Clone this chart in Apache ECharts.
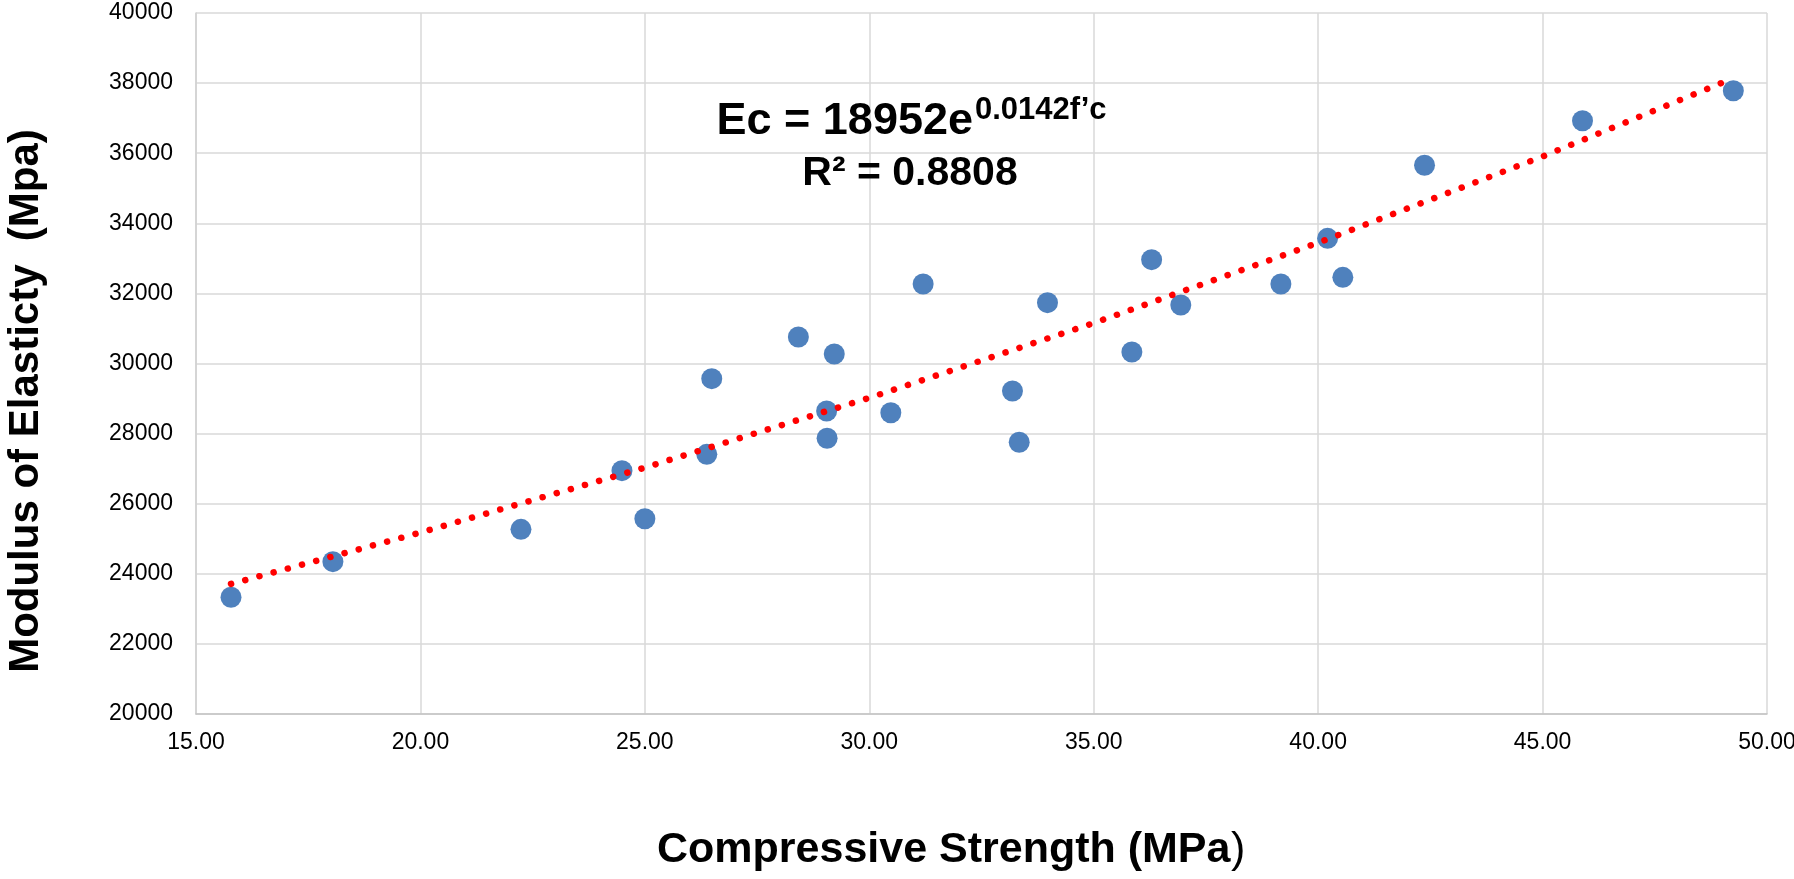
<!DOCTYPE html>
<html>
<head>
<meta charset="utf-8">
<script src="https://cdn.jsdelivr.net/npm/echarts@6/dist/echarts.min.js"></script>
<style>
  html, body { margin: 0; padding: 0; background: #ffffff; }
  #chart { width: 1794px; height: 879px; }
</style>
</head>
<body>
<div id="chart"></div>
<script>
// Measured data: compressive strength (MPa) vs modulus of elasticity (MPa)
var strength = [15.78, 18.05, 22.24, 24.49, 25.00, 26.38, 26.49, 28.42, 29.05, 29.06, 29.22, 30.48, 31.20,
                33.19, 33.34, 33.97, 35.85, 36.29, 36.94, 39.17, 40.21, 40.55, 42.37, 45.89, 49.25];
var modulus  = [23330, 24346, 25269, 26942, 25572, 27409, 29567, 30756, 28645, 27866, 30271, 28596, 32268,
                29215, 27752, 31735, 30328, 32962, 31669, 32268, 33572, 32459, 35655, 36927, 37783];

// Trendline points (exponential trendline)
var trendX = [15.78, 20, 25, 30, 35, 40, 45, 49.25];
var trendY = [23711, 25176, 27029, 29020, 31154, 33445, 35906, 38141];

var xTicks = { min: 15, max: 50, interval: 5 };
var yTicks = { min: 20000, max: 40000, interval: 2000 };

var eqMain = 'Ec = 18952e';
var eqSup = '0.0142f\u2019c';
var eqR2 = 'R\u00B2 = 0.8808';
var xTitle = 'Compressive Strength (MPa';
var xTitleEnd = ')';
var yTitle = 'Modulus of Elasticty  (Mpa)';

var FONT = '"Liberation Sans", Arial, Helvetica, sans-serif';

var scatterData = strength.map(function (x, i) { return [x, modulus[i]]; });
var trendData = trendX.map(function (x, i) { return [x, trendY[i]]; });

var chart = echarts.init(document.getElementById('chart'), null, { renderer: 'canvas' });

chart.setOption({
  animation: false,
  backgroundColor: '#ffffff',
  textStyle: { fontFamily: FONT },
  grid: { left: 196, right: 27, top: 13, bottom: 165, containLabel: false, outerBoundsMode: 'none' },
  xAxis: {
    type: 'value',
    min: xTicks.min, max: xTicks.max, interval: xTicks.interval,
    axisLine: { show: true, lineStyle: { color: '#c4c4c4', width: 1.5 } },
    axisTick: { show: false },
    splitLine: { show: true, lineStyle: { color: '#d9d9d9', width: 1.5 } },
    axisLabel: {
      margin: 17, fontSize: 23, color: '#000', fontFamily: FONT,
      formatter: function (v) { return v.toFixed(2); }
    }
  },
  yAxis: {
    type: 'value',
    min: yTicks.min, max: yTicks.max, interval: yTicks.interval,
    axisLine: { show: true, lineStyle: { color: '#d0d0d0', width: 1.5 } },
    axisTick: { show: false },
    splitLine: { show: true, lineStyle: { color: '#d9d9d9', width: 1.5 } },
    axisLabel: {
      margin: 23, fontSize: 23, color: '#000', fontFamily: FONT,
      formatter: function (v) { return String(v); }
    }
  },
  series: [
    {
      type: 'scatter',
      data: scatterData,
      symbol: 'circle',
      symbolSize: 21,
      itemStyle: { color: '#4F81BD', opacity: 1 },
      emphasis: { disabled: true },
      z: 2
    },
    {
      type: 'line',
      data: trendData,
      showSymbol: false,
      symbol: 'none',
      smooth: false,
      lineStyle: { color: '#FF0000', width: 6.5, type: [0.1, 14.6], cap: 'round' },
      emphasis: { disabled: true },
      z: 3
    }
  ],
  graphic: [
    {
      type: 'text', right: 1794 - 973, top: 99, z: 10,
      style: { text: eqMain, font: 'bold 45px ' + FONT, fill: '#000' }
    },
    {
      type: 'text', left: 975, top: 95, z: 10,
      style: { text: eqSup, font: 'bold 31px ' + FONT, fill: '#000' }
    },
    {
      type: 'text', x: 910, y: 153, z: 10,
      style: { text: eqR2, font: 'bold 41px ' + FONT, fill: '#000', align: 'center', verticalAlign: 'top' }
    },
    {
      type: 'group', left: 657, top: 829, z: 10,
      children: [
        { type: 'text', x: 0, y: 0, style: { text: xTitle, font: 'bold 43px ' + FONT, fill: '#000' } },
        { type: 'text', x: 574, y: 0, style: { text: xTitleEnd, font: '43px ' + FONT, fill: '#000' } }
      ]
    },
    {
      type: 'text', x: 26, y: 401, rotation: Math.PI / 2, z: 10,
      style: { text: yTitle, font: 'bold 42px ' + FONT, fill: '#000', align: 'center', verticalAlign: 'middle' }
    }
  ]
});
</script>
</body>
</html>
